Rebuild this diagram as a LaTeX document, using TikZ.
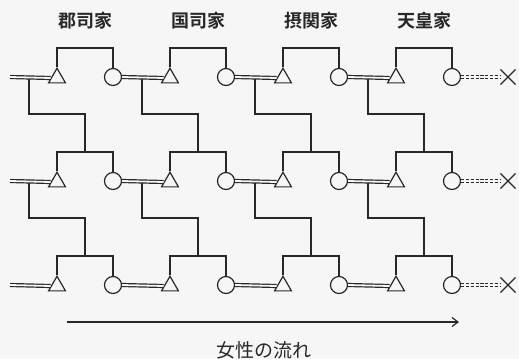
\documentclass[tikz,border=0pt]{standalone}
\usepackage{fontspec}
\newfontfamily\jpsans{Noto Sans CJK JP}
\newfontfamily\jpbold{Noto Sans CJK JP Bold}
\usetikzlibrary{shapes.geometric,shapes.misc,arrows.meta,calc}
\definecolor{ink}{RGB}{40,40,40}
\definecolor{paper}{RGB}{246,246,246}
\tikzset{
  x=1pt,y=-1pt,
  man/.style={draw=ink,regular polygon,regular polygon sides=3,minimum size=19.5pt,inner sep=0pt,line width=1.2pt},
  woman/.style={draw=ink,circle,minimum size=17pt,inner sep=0pt,line width=1.2pt},
  gone/.style={draw=ink,cross out,minimum size=14pt,inner sep=0pt,line width=1.1pt},
  link/.style={draw=ink,line width=1.2pt},
  wed/.style={draw=ink,double=paper,double distance=1.8pt,line width=1.2pt},
  lost/.style={draw=ink,double=paper,double distance=1.8pt,line width=1.2pt,dash pattern=on 3.2pt off 1.6pt},
  house/.style={font=\jpbold\fontsize{18pt}{18pt}\selectfont,text=ink},
  flow/.style={font=\jpsans\fontsize{19pt}{19pt}\selectfont,text=ink}
}
\begin{document}
\begin{tikzpicture}
\fill[paper] (0,0) rectangle (519,359);
\useasboundingbox (0,0) rectangle (519,359);
% house labels
\node[house] (h1) at (85,21) {郡司家};
\node[house] (h2) at (198,21) {国司家};
\node[house] (h3) at (311,21) {摂関家};
\node[house] (h4) at (424,21) {天皇家};
% rows
\foreach \r/\y in {1/77,2/181,3/285}{
  \foreach \c/\x in {1/57,2/170,3/283,4/396}{
    \node[man] (t\r\c) at (\x,\y+1) {};
    \node[woman] (c\r\c) at (\x+56,\y) {};
    \coordinate (b\r\c) at (\x+28,\y-29);
    \coordinate (d\r\c) at (\x-28,\y+1.5);
    \draw[link] (t\r\c.corner 1) |- (b\r\c) -| (c\r\c.north);
  }
  \coordinate (s\r) at (10,\y);
  \node[gone] (x\r) at (508,\y) {};
  \draw[wed] (s\r) -- (t\r1.west);
  \draw[wed] (c\r1.east) -- (t\r2.west);
  \draw[wed] (c\r2.east) -- (t\r3.west);
  \draw[wed] (c\r3.east) -- (t\r4.west);
  \draw[lost] (c\r4.east) -- (x\r.west);
}
% descent lines
\foreach \r/\n in {1/2,2/3}{
  \foreach \c in {1,2,3,4}{
    \draw[link] (d\r\c) -- ++(0,35.5) -| (b\n\c);
  }
}
% flow arrow
\coordinate (a0) at (67,322);
\coordinate (a1) at (459,322);
\draw[link,-{Straight Barb[length=6pt,width=9pt]}] (a0) -- (a1);
\node[flow] (fl) at (264,350) {女性の流れ};
\end{tikzpicture}
\end{document}
